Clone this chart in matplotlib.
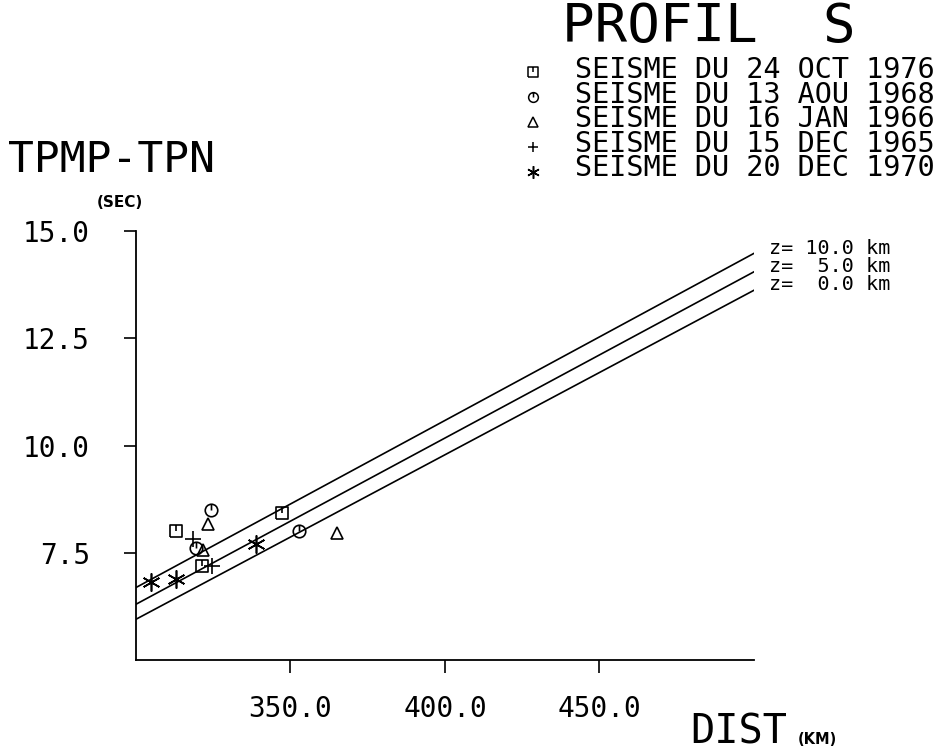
import matplotlib
matplotlib.use("Agg")
import matplotlib.pyplot as plt
from matplotlib.path import Path

# data
oct76_x = [312.9, 321.3, 347.2]
oct76_y = [8.00, 7.20, 8.42]
aou68_x = [324.3, 319.3, 352.7]
aou68_y = [8.50, 7.61, 8.00]
jan66_x = [323.2, 321.8, 364.9]
jan66_y = [8.17, 7.56, 7.97]
dec65_x = [318.5, 324.5]
dec65_y = [7.82, 7.20]
dec70_x = [304.7, 312.9, 338.7]
dec70_y = [6.81, 6.89, 7.70]

line_x = [300.0, 500.0]
z0_y = [5.95, 13.62]
z5_y = [6.30, 14.05]
z10_y = [6.69, 14.48]
z_labels = ["z= 10.0 km", "z=  5.0 km", "z=  0.0 km"]

legend_labels = ["SEISME DU 24 OCT 1976",
                 "SEISME DU 13 AOU 1968",
                 "SEISME DU 16 JAN 1966",
                 "SEISME DU 15 DEC 1965",
                 "SEISME DU 20 DEC 1970"]

x_ticks = [350.0, 400.0, 450.0]
y_ticks = [7.5, 10.0, 12.5, 15.0]

MONO = "DejaVu Sans Mono"

# plotter style symbols: square / circle with a small stroke from the top
tick_seg = Path([(0, 1), (0, 0)], [Path.MOVETO, Path.LINETO])
box = Path([(-1, -1), (1, -1), (1, 1), (-1, 1), (-1, -1)])
sq_marker = Path.make_compound_path(box, tick_seg)
circ_marker = Path.make_compound_path(Path.unit_circle(), tick_seg)
star_marker = (6, 2, 0)

fig = plt.figure(figsize=(9.47, 7.55), dpi=100)
ax = fig.add_axes([0.1436, 0.1258, 0.6526, 0.5682])

for yy in (z10_y, z5_y, z0_y):
    ax.plot(line_x, yy, color="black", lw=1.2)
# the three line labels as one block; its last baseline sits at the lowest line end
ax.annotate("\n".join(z_labels), xy=(line_x[1], z0_y[1]), xytext=(11, 0),
            textcoords="offset points", ha="left", va="baseline",
            fontsize=14.5, family=MONO, linespacing=0.95)

kw = dict(linestyle="none", color="black", mfc="none", mew=1.2)
ax.plot(oct76_x, oct76_y, marker=sq_marker, ms=9, **kw)
ax.plot(aou68_x, aou68_y, marker=circ_marker, ms=9, **kw)
ax.plot(jan66_x, jan66_y, marker="^", ms=9, **kw)
ax.plot(dec65_x, dec65_y, marker="+", ms=11, **kw)
ax.plot(dec70_x, dec70_y, marker=star_marker, ms=13, **kw)

ax.set_xlim(300, 500)
ax.set_ylim(5, 15)
ax.set_xticks(x_ticks)
ax.set_yticks(y_ticks)
ax.set_xticklabels(["%.1f" % v for v in x_ticks], family=MONO, fontsize=20)
ax.set_yticklabels(["%.1f" % v for v in y_ticks], family=MONO, fontsize=20)
ax.tick_params(axis="both", direction="out", length=9, width=1.2)
ax.tick_params(axis="y", pad=24)
ax.tick_params(axis="x", pad=16)
for s in ("top", "right"):
    ax.spines[s].set_visible(False)
for s in ("left", "bottom"):
    ax.spines[s].set_linewidth(1.3)

# axis titles placed like the plotter output
fig.text(8 / 947, 1 - 172 / 755, "TPMP-TPN", family=MONO, fontsize=31, va="baseline")
fig.text(97 / 947, 1 - 207 / 755, "(SEC)", fontsize=11, fontweight="bold", va="baseline")
fig.text(690 / 947, 1 - 744 / 755, "DIST", family=MONO, fontsize=29, va="baseline")
fig.text(798 / 947, 1 - 744 / 755, "(KM)", fontsize=10.5, fontweight="bold", va="baseline")

# title block
fig.text(562 / 947, 1 - 42 / 755, "PROFIL  S", family=MONO, fontsize=39, va="baseline")
fig.text(575 / 947, 1 - 176 / 755, "\n".join(legend_labels), family=MONO,
         fontsize=20.5, va="baseline", linespacing=0.84)
legend_markers = [sq_marker, circ_marker, "^", "+", star_marker]
for i, mk in enumerate(legend_markers):
    yb = 76 + 25 * i
    fig.lines.append(plt.Line2D([533 / 947], [1 - (yb - 4) / 755], transform=fig.transFigure,
                                marker=mk, ms=7 if i < 4 else 9, linestyle="none",
                                color="black", mfc="none", mew=1.1))

fig.savefig("out.png", dpi=100)
